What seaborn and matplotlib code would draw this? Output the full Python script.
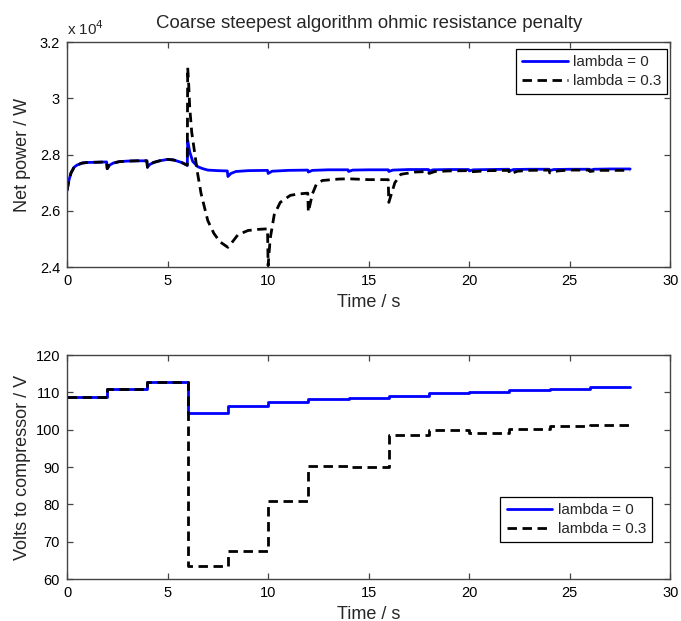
import numpy as np
import pandas as pd
import matplotlib
matplotlib.use("Agg")
import matplotlib.pyplot as plt
import seaborn as sns

# ---------------- data ----------------
# Top panel: net power (x 10^4 W), lambda = 0
t_p0 = [0, 0.1, 0.2, 0.35, 0.5, 0.75, 1.0, 1.5, 1.97, 2.0, 2.1, 2.3, 2.6, 3.0, 3.5, 3.97,
        4.0, 4.1, 4.3, 4.6, 5.0, 5.3, 5.7, 5.98, 6.0, 6.1, 6.25, 6.5, 6.75, 7.0, 7.5, 7.97,
        8.0, 8.15, 8.4, 9.0, 9.97, 10.0, 10.2, 11.0, 11.97, 12.0, 12.2, 13.0, 13.97, 14.0,
        14.2, 15.0, 15.97, 16.0, 16.2, 17.0, 17.97, 18.0, 18.2, 19.0, 19.97, 20.0, 20.2,
        21.0, 21.97, 22.0, 22.2, 23.0, 23.97, 24.0, 24.2, 25.0, 25.97, 26.0, 26.2, 27.0, 28.0]
p_lam0 = [2.672, 2.71, 2.735, 2.755, 2.763, 2.770, 2.772, 2.773, 2.774, 2.750, 2.762, 2.770,
          2.775, 2.777, 2.778, 2.778, 2.755, 2.764, 2.772, 2.778, 2.783, 2.781, 2.772, 2.762,
          2.850, 2.810, 2.776, 2.757, 2.750, 2.745, 2.743, 2.742, 2.722, 2.733, 2.740, 2.743,
          2.744, 2.733, 2.741, 2.744, 2.745, 2.738, 2.744, 2.746, 2.746, 2.740, 2.745, 2.746,
          2.746, 2.740, 2.745, 2.747, 2.747, 2.741, 2.746, 2.747, 2.747, 2.742, 2.746, 2.747,
          2.748, 2.742, 2.747, 2.748, 2.748, 2.743, 2.747, 2.748, 2.748, 2.744, 2.748, 2.749, 2.749]

# Top panel: net power (x 10^4 W), lambda = 0.3
t_p3 = [0, 0.1, 0.2, 0.35, 0.5, 0.75, 1.0, 1.5, 1.97, 2.0, 2.1, 2.3, 2.6, 3.0, 3.5, 3.97,
        4.0, 4.1, 4.3, 4.6, 5.0, 5.3, 5.7, 5.98, 6.0, 6.05, 6.1, 6.2, 6.3, 6.4, 6.5, 6.67,
        7.0, 7.3, 7.6, 8.0, 8.1, 8.5, 9.0, 9.5, 9.97, 10.0, 10.1, 10.3, 10.6, 11.1, 11.5,
        11.97, 12.0, 12.2, 12.4, 12.7, 13.5, 14.0, 15.0, 15.97, 16.0, 16.3, 16.6, 17.3,
        17.97, 18.0, 18.3, 19.0, 20.0, 20.1, 21.0, 21.97, 22.0, 22.4, 23.0, 23.97, 24.0,
        24.4, 25.0, 25.97, 26.0, 26.4, 28.0]
p_lam3 = [2.672, 2.71, 2.735, 2.755, 2.763, 2.770, 2.772, 2.773, 2.774, 2.750, 2.762, 2.770,
          2.775, 2.777, 2.778, 2.778, 2.755, 2.764, 2.772, 2.778, 2.783, 2.781, 2.772, 2.762,
          3.110, 3.050, 2.970, 2.880, 2.830, 2.780, 2.730, 2.660, 2.565, 2.520, 2.490, 2.470,
          2.478, 2.515, 2.530, 2.534, 2.536, 2.405, 2.500, 2.585, 2.630, 2.655, 2.660, 2.663,
          2.596, 2.660, 2.695, 2.708, 2.713, 2.714, 2.711, 2.711, 2.630, 2.700, 2.730, 2.738,
          2.740, 2.733, 2.740, 2.742, 2.743, 2.739, 2.743, 2.744, 2.731, 2.741, 2.744, 2.745,
          2.735, 2.742, 2.745, 2.745, 2.740, 2.744, 2.744]

# Bottom panel: volts to compressor (steps every 2 s)
t_steps = [0, 2, 4, 6, 8, 10, 12, 14, 16, 18, 20, 22, 24, 26, 28]
v_lam0 = [108.7, 110.9, 112.9, 104.5, 106.4, 107.35, 108.1, 108.6, 109.1, 109.75, 110.2,
          110.6, 111.0, 111.35, 111.35]
v_lam3 = [108.7, 110.9, 112.9, 63.4, 67.5, 81.0, 90.3, 90.0, 98.6, 99.95, 99.2, 100.1,
          101.0, 101.3, 101.3]

labels = ["lambda = 0", "lambda = 0.3"]
x_ticks = [0, 5, 10, 15, 20, 25, 30]
top_ticks = [2.4, 2.6, 2.8, 3.0, 3.2]
top_ticklabels = ["2.4", "2.6", "2.8", "3", "3.2"]
bot_ticks = [60, 70, 80, 90, 100, 110, 120]

# ---------------- style ----------------
sns.set_style("white")
plt.rcParams["font.family"] = ["Liberation Sans", "DejaVu Sans"]
frame_col = "#444444"

fig = plt.figure(figsize=(6.81, 6.21), dpi=100)
ax1 = fig.add_axes([0.0984, 0.570, 0.886, 0.362])
ax2 = fig.add_axes([0.0984, 0.0676, 0.886, 0.3607])

lw = 2.0
dash = (3.4, 2.0)

sns.lineplot(x=t_p0, y=p_lam0, ax=ax1, color="#0000ff", lw=lw, estimator=None, sort=False,
             label=labels[0])
sns.lineplot(x=t_p3, y=p_lam3, ax=ax1, color="black", lw=lw, estimator=None, sort=False,
             dashes=False, label=labels[1])
ax1.lines[1].set_dashes(dash)

sns.lineplot(x=t_steps, y=v_lam0, ax=ax2, color="#0000ff", lw=lw, estimator=None, sort=False,
             drawstyle="steps-post", label=labels[0])
sns.lineplot(x=t_steps, y=v_lam3, ax=ax2, color="black", lw=lw, estimator=None, sort=False,
             drawstyle="steps-post", label=labels[1])
ax2.lines[1].set_dashes(dash)

for ax in (ax1, ax2):
    ax.set_xlim(0, 30)
    ax.set_xticks(x_ticks)
    ax.set_xticklabels([str(v) for v in x_ticks])
    for s in ax.spines.values():
        s.set_visible(True)
        s.set_color(frame_col)
        s.set_linewidth(1.0)
    ax.tick_params(direction="in", length=4, width=0.9, color=frame_col,
                   top=True, right=True, bottom=True, left=True,
                   labelsize=10.5, labelcolor="black", pad=5)
    ax.set_xlabel("Time / s", fontsize=13, labelpad=4)

ax1.set_ylim(2.4, 3.2)
ax1.set_yticks(top_ticks)
ax1.set_yticklabels(top_ticklabels)
ax1.set_ylabel("Net power / W", fontsize=13)
ax1.yaxis.set_label_coords(-0.06, 0.5)
ax1.set_title("Coarse steepest algorithm ohmic resistance penalty", fontsize=13.4, pad=10)
ax1.text(0.0, 1.02, "x 10$^4$", transform=ax1.transAxes, ha="left", va="bottom", fontsize=11)

ax2.set_ylim(60, 120)
ax2.set_yticks(bot_ticks)
ax2.set_yticklabels([str(v) for v in bot_ticks])
ax2.set_ylabel("Volts to compressor / V", fontsize=13)
ax2.yaxis.set_label_coords(-0.06, 0.5)

leg_kw = dict(fontsize=11, frameon=True, fancybox=False, shadow=False, framealpha=1,
              edgecolor="black", borderaxespad=0, handlelength=3.0, handletextpad=0.35,
              borderpad=0.4, labelspacing=0.3)
l1 = ax1.legend(loc="upper right", bbox_to_anchor=(0.995, 0.969), **leg_kw)
l2 = ax2.legend(loc="lower right", bbox_to_anchor=(0.970, 0.165), **leg_kw)
for lg in (l1, l2):
    lg.get_frame().set_linewidth(0.9)
    lg.get_lines()[1].set_dashes(dash)

fig.savefig("out.png", dpi=100)
